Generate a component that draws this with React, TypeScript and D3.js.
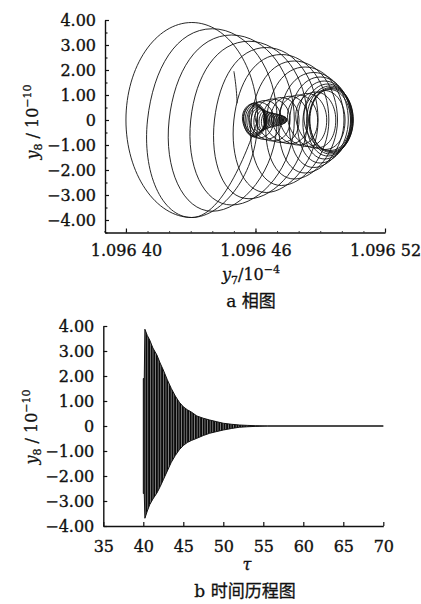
import { useEffect, useRef } from 'react';
import * as d3 from 'd3';

// (a) phase portrait: each loop of the trajectory, y7 given as offset in 1e-5 above 1.096 (x 1e-4), y8 in 1e-10
const loopCenter = [43.05, 44.0, 44.9, 45.7, 46.5, 47.2, 47.8, 48.3, 48.7, 49.0, 49.2, 49.35, 49.45, 49.5, 49.5, 49.45, 49.2, 48.8, 48.4, 48.0, 47.6, 47.2, 46.8, 46.45, 46.15, 45.95, 45.95, 45.98, 46.02, 46.08, 46.15, 46.25, 46.35, 46.45, 46.55, 46.65, 46.75, 46.85, 46.95, 47.05, 47.12, 47.2, 47.25, 47.3, 47.35, 47.38];
const loopRadiusX = [3.05, 3.0, 2.9, 2.7, 2.4, 2.2, 2.0, 1.8, 1.6, 1.42, 1.25, 1.15, 1.08, 1.02, 0.98, 0.95, 0.95, 0.92, 0.9, 0.88, 0.85, 0.82, 0.8, 0.75, 0.7, 0.55, 0.5, 0.46, 0.42, 0.38, 0.35, 0.32, 0.3, 0.28, 0.27, 0.26, 0.25, 0.24, 0.22, 0.2, 0.18, 0.16, 0.14, 0.12, 0.1, 0.08];
const loopRadiusY = [3.9, 3.65, 3.4, 3.15, 2.9, 2.62, 2.36, 2.12, 1.9, 1.72, 1.56, 1.44, 1.36, 1.3, 1.26, 1.22, 1.18, 1.12, 1.06, 1.0, 0.95, 0.9, 0.84, 0.78, 0.72, 0.67, 0.64, 0.6, 0.56, 0.52, 0.48, 0.44, 0.4, 0.36, 0.33, 0.3, 0.28, 0.26, 0.24, 0.22, 0.2, 0.18, 0.16, 0.14, 0.12, 0.1];
const startY7 = [45.0, 45.1, 45.15];
const startY8 = [1.95, 1.3, 0.67];
const phaseXTicks = [40, 46, 52];
const phaseXMinor = [39, 40, 41, 42, 43, 44, 45, 46, 47, 48, 49, 50, 51, 52];
const yTicks = [4, 3, 2, 1, 0, -1, -2, -3, -4];
const phaseYMinor = [3.5, 2.5, 1.5, 0.5, -0.5, -1.5, -2.5, -3.5, -4.5];

// (b) time history: envelope of y8 (1e-10) against tau
const tau = [40.0, 40.12, 40.2, 40.5, 40.8, 41.2, 41.7, 42.1, 42.5, 43.0, 43.5, 44.0, 44.5, 45.0, 45.5, 46.0, 46.7, 47.5, 48.3, 49.2, 50.0, 51.0, 52.0, 53.0, 54.0, 55.5, 70];
const upperEnv = [1.9, 1.9, 3.87, 3.62, 3.44, 3.12, 2.84, 2.52, 2.24, 1.85, 1.5, 1.2, 0.95, 0.77, 0.65, 0.56, 0.4, 0.31, 0.24, 0.17, 0.11, 0.07, 0.04, 0.025, 0.012, 0, 0];
const lowerEnv = [-2.7, -2.7, -3.69, -3.4, -3.15, -2.92, -2.68, -2.43, -2.15, -1.8, -1.45, -1.18, -0.95, -0.78, -0.66, -0.58, -0.49, -0.38, -0.29, -0.22, -0.16, -0.1, -0.05, -0.03, -0.015, 0, 0];
const tauTicks = [35, 40, 45, 50, 55, 60, 65, 70];

const FONT = 'DejaVu Serif';
const CJK = '"Noto Sans CJK SC"';
const INK = '#111';

function styleAxis(g) {
  g.attr('font-family', FONT).attr('font-size', 16);
  g.selectAll('.domain').attr('stroke', INK).attr('stroke-width', 1.4);
  g.selectAll('.tick line').attr('stroke', INK).attr('stroke-width', 1.2);
  g.selectAll('.tick text').attr('fill', INK).attr('stroke', INK).attr('stroke-width', 0.35);
}

const yFmt = (d) => (d === 0 ? '0' : d3.format('.2f')(d));

function yTitle(svg, x, y) {
  const t = svg
    .append('text')
    .attr('transform', `translate(${x},${y}) rotate(-90)`)
    .attr('text-anchor', 'middle')
    .attr('font-family', FONT)
    .attr('font-size', 16)
    .attr('fill', INK)
    .attr('stroke', INK)
    .attr('stroke-width', 0.3);
  t.append('tspan').attr('font-style', 'italic').text('y');
  t.append('tspan').attr('font-size', 11).attr('dy', 4).text('8');
  t.append('tspan').attr('dy', -4).text(' / 10');
  t.append('tspan').attr('font-size', 11).attr('dy', -7).text('−10');
}

export default function App() {
  const ref = useRef(null);

  useEffect(() => {
    const svg = d3.select(ref.current);
    svg.selectAll('*').remove();

    // ---------- (a) phase portrait ----------
    const xA = d3.scaleLinear().domain([39.03, 52]).range([105, 385]);
    const yA = d3.scaleLinear().domain([-4.5, 4]).range([232.5, 20]);

    // lead in with the lower half of the first loop so it is drawn closed
    const pts = [
      [loopCenter[0] + loopRadiusX[0], 0],
      [loopCenter[0], -loopRadiusY[0]],
    ];
    loopCenter.forEach((cx, i) => {
      const rx = loopRadiusX[i];
      const ry = loopRadiusY[i];
      pts.push([cx - rx, 0], [cx, ry], [cx + rx, 0], [cx, -ry]);
    });
    const phaseLine = d3
      .line()
      .x((d) => xA(d[0]))
      .y((d) => yA(d[1]))
      .curve(d3.curveCardinal.tension(-0.65));

    svg
      .append('path')
      .attr('d', phaseLine(pts))
      .attr('fill', 'none')
      .attr('stroke', INK)
      .attr('stroke-width', 0.9);

    svg
      .append('path')
      .attr('d', phaseLine(startY7.map((v, i) => [v, startY8[i]])))
      .attr('fill', 'none')
      .attr('stroke', INK)
      .attr('stroke-width', 0.9);

    const ayA = svg.append('g').attr('transform', 'translate(105,0)');
    ayA.call(d3.axisLeft(yA).tickValues(yTicks).tickSize(-4).tickSizeOuter(0).tickPadding(9).tickFormat(yFmt));
    styleAxis(ayA);
    const ayAm = svg.append('g').attr('transform', 'translate(105,0)');
    ayAm.call(d3.axisLeft(yA).tickValues(phaseYMinor).tickSize(-2.5).tickFormat(''));
    ayAm.select('.domain').remove();
    styleAxis(ayAm);

    const axA = svg.append('g').attr('transform', 'translate(0,232.5)');
    axA.call(
      d3
        .axisBottom(xA)
        .tickValues(phaseXTicks)
        .tickSize(-4)
        .tickSizeOuter(0)
        .tickPadding(12.6)
        .tickFormat((d) => `1.096 ${d}`)
    );
    styleAxis(axA);
    const axAm = svg.append('g').attr('transform', 'translate(0,232.5)');
    axAm.call(d3.axisBottom(xA).tickValues(phaseXMinor).tickSize(-1.5).tickFormat(''));
    axAm.select('.domain').remove();
    styleAxis(axAm);
    axAm.selectAll('.tick line').attr('stroke-width', 0.8);

    yTitle(svg, 38, 122);

    const xt = svg
      .append('text')
      .attr('x', 251)
      .attr('y', 280)
      .attr('text-anchor', 'middle')
      .attr('font-family', FONT)
      .attr('font-size', 16)
      .attr('fill', INK)
      .attr('stroke', INK)
      .attr('stroke-width', 0.3);
    xt.append('tspan').attr('font-style', 'italic').text('y');
    xt.append('tspan').attr('font-size', 11).attr('dy', 4).text('7');
    xt.append('tspan').attr('dy', -4).text('/10');
    xt.append('tspan').attr('font-size', 11).attr('dy', -7).text('−4');

    const capA = svg
      .append('text')
      .attr('x', 251)
      .attr('y', 307)
      .attr('text-anchor', 'middle')
      .attr('font-size', 17)
      .attr('fill', INK)
      .attr('stroke', INK)
      .attr('stroke-width', 0.3);
    capA.append('tspan').attr('font-family', FONT).text('a ');
    capA.append('tspan').attr('font-family', CJK).text('相图');

    // ---------- (b) time history ----------
    const xB = d3.scaleLinear().domain([35, 70]).range([103.3, 383.3]);
    const yB = d3.scaleLinear().domain([-4, 4]).range([526, 326]);

    const defs = svg.append('defs');
    const pat = defs
      .append('pattern')
      .attr('id', 'osc')
      .attr('patternUnits', 'userSpaceOnUse')
      .attr('width', 2.6)
      .attr('height', 10);
    pat.append('rect').attr('width', 2.6).attr('height', 10).attr('fill', '#0a0a0a');
    pat.append('rect').attr('x', 1.9).attr('width', 0.5).attr('height', 10).attr('fill', '#ddd');

    const env = d3
      .area()
      .x((d, i) => xB(tau[i]))
      .y0((d, i) => yB(lowerEnv[i]))
      .y1((d, i) => yB(upperEnv[i]));

    svg
      .append('path')
      .attr('d', env(tau))
      .attr('fill', 'url(#osc)')
      .attr('stroke', INK)
      .attr('stroke-width', 1);

    const ayB = svg.append('g').attr('transform', 'translate(103.3,0)');
    ayB.call(d3.axisLeft(yB).tickValues(yTicks).tickSize(-4).tickSizeOuter(0).tickPadding(9).tickFormat(yFmt));
    styleAxis(ayB);

    const axB = svg.append('g').attr('transform', 'translate(0,526)');
    axB.call(d3.axisBottom(xB).tickValues(tauTicks).tickSize(-4).tickSizeOuter(0).tickPadding(14.6));
    styleAxis(axB);

    yTitle(svg, 37, 427);

    svg
      .append('text')
      .attr('x', 247)
      .attr('y', 570)
      .attr('text-anchor', 'middle')
      .attr('font-family', FONT)
      .attr('font-style', 'italic')
      .attr('font-size', 16)
      .attr('fill', INK)
      .attr('stroke', INK)
      .attr('stroke-width', 0.3)
      .text('τ');

    const capB = svg
      .append('text')
      .attr('x', 245)
      .attr('y', 597)
      .attr('text-anchor', 'middle')
      .attr('font-size', 17)
      .attr('fill', INK)
      .attr('stroke', INK)
      .attr('stroke-width', 0.3);
    capB.append('tspan').attr('font-family', FONT).text('b ');
    capB.append('tspan').attr('font-family', CJK).text('时间历程图');
  }, []);

  return (
    <svg
      ref={ref}
      width={421}
      height={604}
      style={{ position: 'absolute', left: 0, top: 0, background: '#fff' }}
    />
  );
}
